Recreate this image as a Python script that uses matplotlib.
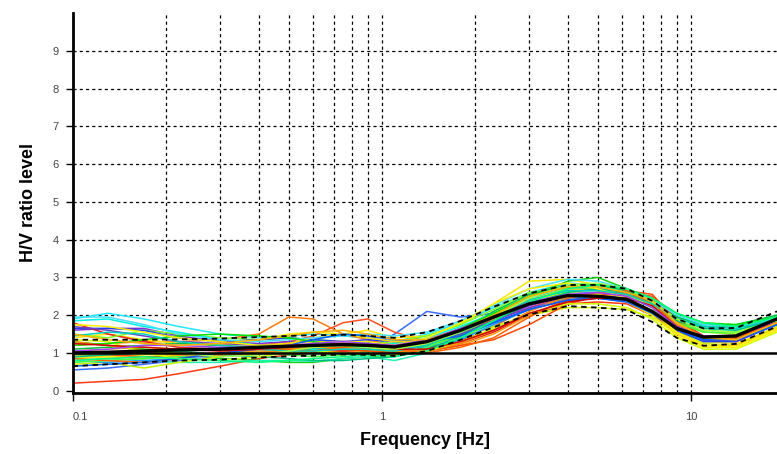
import matplotlib
matplotlib.use("Agg")
import matplotlib.pyplot as plt
from matplotlib.ticker import FixedLocator, NullFormatter

# Frequency nodes [Hz]
freq = [0.1, 0.13, 0.17, 0.22, 0.3, 0.4, 0.5, 0.6, 0.75, 0.9, 1.1, 1.4, 1.8,
        2.3, 3.0, 4.0, 5.0, 6.2, 7.5, 9.0, 11, 14, 19]

# Individual H/V curves
hv_curves = [
    [0.20, 0.25, 0.30, 0.45, 0.65, 0.85, 0.95, 1.00, 1.05, 1.10, 1.00, 1.10, 1.35, 1.60, 2.00, 2.30, 2.35, 2.30, 2.00, 1.55, 1.35, 1.40, 1.85],
    [1.90, 2.05, 1.90, 1.70, 1.50, 1.40, 1.45, 1.50, 1.45, 1.40, 1.30, 1.50, 1.80, 2.20, 2.60, 2.85, 2.80, 2.60, 2.30, 1.85, 1.60, 1.55, 1.80],
    [0.55, 0.60, 0.70, 0.80, 0.90, 1.00, 1.05, 1.10, 1.15, 1.10, 1.50, 2.10, 1.95, 2.05, 2.30, 2.60, 2.60, 2.40, 2.05, 1.60, 1.40, 1.40, 1.80],
    [1.20, 1.25, 1.30, 1.30, 1.35, 1.50, 1.95, 1.90, 1.50, 1.35, 1.20, 1.20, 1.50, 1.90, 2.40, 2.70, 2.70, 2.55, 2.30, 1.75, 1.45, 1.40, 1.85],
    [0.90, 0.95, 1.00, 1.05, 1.10, 1.20, 1.30, 1.45, 1.80, 1.90, 1.55, 1.30, 1.40, 1.70, 2.20, 2.50, 2.55, 2.60, 2.50, 1.90, 1.45, 1.35, 1.80],
    [1.40, 1.50, 1.35, 1.25, 1.20, 1.35, 1.50, 1.55, 1.50, 1.60, 1.40, 1.45, 1.75, 2.30, 2.90, 2.95, 2.80, 2.55, 2.20, 1.60, 1.30, 1.25, 1.65],
    [1.30, 1.20, 1.10, 1.00, 0.85, 0.80, 0.75, 0.75, 0.85, 0.90, 0.95, 1.15, 1.55, 2.00, 2.50, 2.90, 3.00, 2.70, 2.30, 1.80, 1.70, 1.70, 1.95],
    [0.90, 0.85, 0.80, 0.75, 0.75, 0.80, 0.80, 0.78, 0.85, 0.90, 0.80, 1.00, 1.40, 1.80, 2.30, 2.65, 2.70, 2.60, 2.35, 1.95, 1.70, 1.65, 1.90],
    [1.60, 1.65, 1.65, 1.45, 1.30, 1.25, 1.30, 1.30, 1.25, 1.20, 1.15, 1.30, 1.55, 1.85, 2.20, 2.40, 2.45, 2.35, 2.10, 1.60, 1.35, 1.40, 1.85],
    [0.70, 0.75, 0.60, 0.75, 0.90, 1.00, 1.00, 1.05, 1.10, 1.10, 1.10, 1.20, 1.45, 1.70, 2.00, 2.20, 2.20, 2.15, 1.95, 1.55, 1.25, 1.20, 1.70],
    [1.80, 1.50, 1.30, 1.15, 1.10, 1.10, 1.15, 1.10, 1.05, 1.05, 1.00, 1.05, 1.25, 1.55, 2.00, 2.40, 2.50, 2.60, 2.35, 1.75, 1.35, 1.30, 1.80],
    [1.50, 1.40, 1.60, 1.50, 1.40, 1.35, 1.40, 1.35, 1.30, 1.25, 1.30, 1.45, 1.75, 2.15, 2.60, 2.75, 2.70, 2.50, 2.25, 1.85, 1.55, 1.50, 1.90],
    [0.80, 0.75, 0.80, 0.85, 0.95, 1.05, 1.10, 1.15, 1.20, 1.25, 1.15, 1.15, 1.35, 1.75, 2.15, 2.45, 2.50, 2.40, 2.05, 1.60, 1.35, 1.35, 1.75],
    [0.95, 0.90, 0.85, 0.95, 1.00, 1.05, 1.05, 1.00, 1.00, 1.05, 1.05, 1.05, 1.20, 1.50, 2.00, 2.35, 2.50, 2.55, 2.40, 1.80, 1.40, 1.35, 1.75],
    [1.10, 1.15, 1.20, 1.25, 1.20, 1.15, 1.10, 1.10, 1.10, 1.05, 1.05, 1.20, 1.60, 2.10, 2.55, 2.80, 2.80, 2.65, 2.35, 1.95, 1.75, 1.75, 2.00],
    [0.85, 0.90, 0.95, 0.95, 1.00, 1.20, 1.25, 1.30, 1.30, 1.20, 1.25, 1.35, 1.65, 2.00, 2.40, 2.60, 2.55, 2.35, 2.00, 1.45, 1.15, 1.15, 1.60],
    [1.85, 1.90, 1.70, 1.55, 1.35, 1.20, 1.15, 1.10, 1.10, 1.20, 1.25, 1.40, 1.70, 2.05, 2.45, 2.70, 2.75, 2.60, 2.30, 1.90, 1.65, 1.60, 1.85],
    [1.65, 1.65, 1.60, 1.40, 1.30, 1.35, 1.40, 1.35, 1.30, 1.35, 1.30, 1.30, 1.50, 1.80, 2.15, 2.40, 2.45, 2.40, 2.10, 1.60, 1.30, 1.30, 1.75],
    [1.00, 0.95, 0.90, 0.90, 0.95, 1.00, 1.05, 1.05, 1.10, 1.05, 1.00, 1.05, 1.20, 1.35, 1.75, 2.30, 2.50, 2.65, 2.55, 1.85, 1.45, 1.40, 1.95],
    [0.75, 0.80, 0.85, 0.90, 1.00, 1.00, 0.95, 0.90, 0.95, 1.00, 0.95, 1.15, 1.50, 1.95, 2.40, 2.65, 2.65, 2.50, 2.20, 1.80, 1.55, 1.55, 1.85],
    [1.70, 1.60, 1.45, 1.30, 1.25, 1.20, 1.20, 1.25, 1.30, 1.30, 1.20, 1.25, 1.50, 1.85, 2.25, 2.50, 2.50, 2.40, 2.10, 1.60, 1.35, 1.35, 1.80],
    [1.05, 1.10, 1.15, 1.10, 1.10, 1.15, 1.25, 1.40, 1.50, 1.40, 1.30, 1.30, 1.55, 1.95, 2.40, 2.70, 2.65, 2.45, 2.10, 1.50, 1.20, 1.20, 1.65],
    [0.90, 0.95, 1.00, 1.05, 0.95, 0.90, 0.85, 0.80, 0.80, 0.85, 0.90, 1.10, 1.45, 1.85, 2.30, 2.60, 2.70, 2.60, 2.30, 1.85, 1.65, 1.60, 1.90],
    [1.30, 1.20, 1.05, 0.95, 0.95, 1.00, 1.10, 1.15, 1.15, 1.10, 1.05, 1.05, 1.25, 1.60, 2.10, 2.50, 2.60, 2.55, 2.30, 1.75, 1.40, 1.35, 1.80],
    [1.95, 1.95, 1.75, 1.50, 1.35, 1.30, 1.35, 1.40, 1.45, 1.50, 1.45, 1.55, 1.85, 2.25, 2.70, 2.95, 2.90, 2.70, 2.40, 2.00, 1.75, 1.70, 1.95],
    [1.35, 1.30, 1.00, 0.85, 0.80, 0.90, 1.00, 1.05, 1.00, 0.95, 0.95, 1.05, 1.30, 1.65, 2.05, 2.30, 2.30, 2.20, 1.90, 1.40, 1.10, 1.10, 1.55],
    [0.85, 0.80, 0.75, 0.85, 1.00, 1.10, 1.10, 1.05, 1.15, 1.25, 1.10, 1.00, 1.15, 1.40, 1.95, 2.45, 2.60, 2.55, 2.35, 1.70, 1.40, 1.40, 1.80],
    [1.20, 1.25, 1.35, 1.45, 1.50, 1.45, 1.40, 1.30, 1.20, 1.15, 1.15, 1.30, 1.65, 2.05, 2.50, 2.75, 2.80, 2.70, 2.45, 2.05, 1.80, 1.75, 1.95],
    [0.65, 0.70, 0.75, 0.85, 1.00, 1.10, 1.20, 1.35, 1.50, 1.45, 1.35, 1.30, 1.45, 1.80, 2.15, 2.40, 2.45, 2.35, 2.05, 1.60, 1.35, 1.35, 1.75],
    [1.75, 1.70, 1.55, 1.40, 1.30, 1.20, 1.20, 1.25, 1.30, 1.30, 1.20, 1.40, 1.80, 2.30, 2.70, 2.85, 2.70, 2.45, 2.10, 1.55, 1.20, 1.15, 1.60],
    [1.45, 1.55, 1.50, 1.30, 1.20, 1.10, 1.05, 1.05, 1.10, 1.10, 1.05, 1.20, 1.55, 1.95, 2.40, 2.65, 2.65, 2.55, 2.30, 1.90, 1.70, 1.65, 1.90],
    [1.25, 1.20, 1.15, 1.10, 1.05, 1.10, 1.15, 1.20, 1.25, 1.20, 1.10, 1.10, 1.30, 1.60, 2.05, 2.35, 2.45, 2.45, 2.25, 1.70, 1.40, 1.45, 1.85],
    [1.05, 1.10, 1.20, 1.20, 1.15, 1.15, 1.20, 1.25, 1.30, 1.25, 1.20, 1.35, 1.65, 1.95, 2.35, 2.55, 2.60, 2.50, 2.20, 1.70, 1.45, 1.45, 1.85],
    [0.95, 1.00, 1.05, 1.00, 0.90, 0.95, 1.05, 1.15, 1.20, 1.15, 1.10, 1.25, 1.55, 1.95, 2.45, 2.80, 2.85, 2.70, 2.35, 1.90, 1.60, 1.55, 1.85],
    [1.50, 1.35, 1.25, 1.20, 1.25, 1.35, 1.45, 1.55, 1.60, 1.50, 1.35, 1.35, 1.60, 2.00, 2.50, 2.75, 2.75, 2.60, 2.40, 1.80, 1.40, 1.35, 1.80],
    [0.80, 0.85, 0.90, 0.85, 0.80, 0.75, 0.80, 0.85, 0.90, 0.95, 0.90, 1.05, 1.40, 1.85, 2.35, 2.70, 2.80, 2.70, 2.45, 2.05, 1.80, 1.70, 1.95],
]

curve_colors = ["#ff3a10", "#20e8ff", "#3a6cff", "#ff7a10", "#ff5020", "#ffe800",
                "#10d010", "#20f0b0", "#8030d0", "#c8f000", "#e82020", "#80ff20",
                "#10a0ff", "#ffa010", "#00c040", "#f8f000", "#00f0e0", "#2040f0",
                "#ff4800", "#40ff40", "#7040c0", "#ffd800", "#00c080", "#ff8c00",
                "#40e0ff", "#d0ff00", "#ff6000", "#00e000", "#0060ff", "#fff000",
                "#00d0c0", "#d00000", "#a040ff", "#a0ff40", "#ffb000", "#00ff80"]

# Mean and +/- standard deviation curves
hv_mean = [1.00, 1.02, 1.05, 1.08, 1.10, 1.15, 1.18, 1.20, 1.22, 1.20, 1.16, 1.30, 1.60,
           1.95, 2.30, 2.52, 2.50, 2.42, 2.10, 1.65, 1.42, 1.45, 1.90]
hv_upper = [1.35, 1.35, 1.35, 1.36, 1.38, 1.42, 1.45, 1.47, 1.48, 1.45, 1.40, 1.55, 1.85,
            2.22, 2.58, 2.80, 2.80, 2.70, 2.38, 1.90, 1.65, 1.66, 2.10]
hv_lower = [0.65, 0.70, 0.75, 0.80, 0.82, 0.88, 0.91, 0.93, 0.96, 0.95, 0.92, 1.05, 1.35,
            1.68, 2.02, 2.24, 2.20, 2.14, 1.82, 1.40, 1.19, 1.24, 1.70]

ref_level = 1.0
x_major = [0.1, 1, 10]
x_major_labels = ["0.1", "1", "10"]
x_grid = [0.2, 0.3, 0.4, 0.5, 0.6, 0.7, 0.8, 0.9, 1,
          2, 3, 4, 5, 6, 7, 8, 9, 10]
y_ticks = [0, 1, 2, 3, 4, 5, 6, 7, 8, 9]
y_grid = [2, 3, 4, 5, 6, 7, 8, 9]

narrow = ["Liberation Sans Narrow", "Liberation Sans", "DejaVu Sans"]

fig = plt.figure(figsize=(7.77, 4.54), dpi=100)
ax = fig.add_axes([0.0936, 0.1344, 1 - 0.0936, 0.9714 - 0.1344])
ax.set_xscale("log")
ax.set_xlim(0.1, 19)
ax.set_ylim(-0.06, 10)

for g in x_grid:
    ax.axvline(g, color="black", lw=0.9, ls=(0, (2.5, 2.5)), zorder=1)
for g in y_grid:
    ax.axhline(g, color="black", lw=0.9, ls=(0, (2.5, 2.5)), zorder=1)

for vals, c in zip(hv_curves, curve_colors):
    ax.plot(freq, vals, color=c, lw=1.1, zorder=2)

ax.axhline(ref_level, color="black", lw=1.8, zorder=3)
ax.plot(freq, hv_upper, color="black", lw=1.3, ls=(0, (3, 2.5)), zorder=4)
ax.plot(freq, hv_lower, color="black", lw=1.3, ls=(0, (3, 2.5)), zorder=4)
ax.plot(freq, hv_mean, color="black", lw=2.4, zorder=5)

for s in ["top", "right"]:
    ax.spines[s].set_visible(False)
for s in ["left", "bottom"]:
    ax.spines[s].set_linewidth(2.0)

ax.xaxis.set_major_locator(FixedLocator(x_major))
ax.xaxis.set_minor_locator(FixedLocator([]))
ax.xaxis.set_minor_formatter(NullFormatter())
ax.set_xticklabels(x_major_labels, fontsize=8, color="#444444", family=narrow)
ax.get_xticklabels()[0].set_horizontalalignment("left")
ax.tick_params(axis="x", length=6, width=1, pad=8, color="black")
ax.set_yticks(y_ticks)
ax.set_yticklabels([str(v) for v in y_ticks], fontsize=8, color="#444444", family=narrow)
ax.tick_params(axis="y", length=5, width=1, pad=5)

ax.set_xlabel("Frequency [Hz]", fontsize=13, fontweight="bold", family=narrow, labelpad=7)
ax.set_ylabel("H/V ratio level", fontsize=13, fontweight="bold", family=narrow, labelpad=11)

fig.savefig("out.png", dpi=100)
